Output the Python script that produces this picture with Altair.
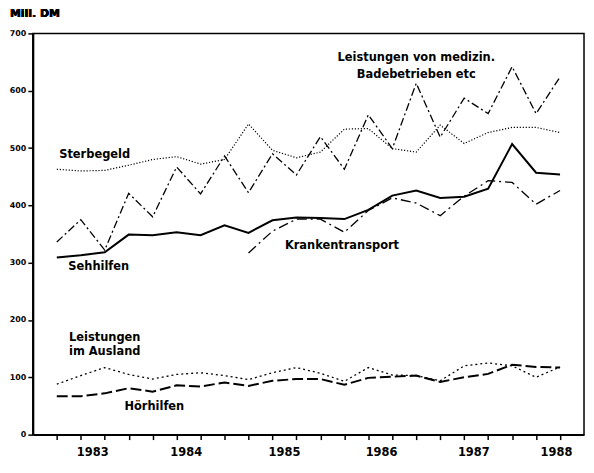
import altair as alt
import pandas as pd

quarters = list(range(22))
medizin = [336, 375, 322, 421, 380, 467, 420, 486, 422, 490, 453, 520, 463, 558, 499, 613, 519, 587, 560, 642, 560, 624]
sterbegeld = [463, 460, 461, 470, 480, 485, 472, 480, 542, 496, 483, 493, 533, 534, 499, 493, 540, 508, 527, 536, 536, 527]
sehhilfen = [309, 313, 318, 349, 348, 353, 348, 365, 352, 374, 379, 378, 376, 392, 417, 426, 413, 415, 429, 507, 457, 454]
kranken = [None] * 8 + [317, 355, 376, 376, 353, 391, 413, 404, 382, 416, 443, 440, 402, 426]
ausland = [88, 103, 117, 105, 97, 105, 108, 103, 96, 108, 117, 107, 93, 117, 104, 103, 94, 120, 125, 120, 100, 118]
hoerhilfen = [67, 67, 72, 81, 75, 86, 84, 91, 85, 94, 97, 97, 87, 99, 101, 103, 92, 100, 106, 122, 118, 117]

year_labels = ["1983", "1984", "1985", "1986", "1987", "1988"]
year_pos = [1.5, 5.4, 9.5, 13.55, 17.4, 20.85]

label_text = ["Sterbegeld", "Sehhilfen", "Krankentransport", "Leistungen von medizin.",
              "Badebetrieben etc", "Leistungen", "im Ausland", "Hörhilfen"]
label_x = [1.58, 1.75, 11.9, 15.0, 15.0, 2.0, 2.0, 4.07]
label_y = [488, 292, 329, 657, 627, 168, 144, 48]

series = {
    "medizin": (medizin, 1.3, [8, 3, 2, 3]),
    "sterbegeld": (sterbegeld, 1.2, [1.2, 1.8]),
    "sehhilfen": (sehhilfen, 2.0, None),
    "kranken": (kranken, 1.3, [10, 4, 2, 4]),
    "ausland": (ausland, 1.3, [2, 3]),
    "hoerhilfen": (hoerhilfen, 2.0, [11, 4]),
}

rows = []
for name, (vals, _, _) in series.items():
    for q, v in zip(quarters, vals):
        if v is not None:
            rows.append({"series": name, "q": q, "v": v})
df = pd.DataFrame(rows)

H = 404

x_enc = alt.X("q:Q", scale=alt.Scale(domain=[-1, 22], nice=False, zero=False),
              axis=alt.Axis(values=quarters, labels=False, title=None, grid=False,
                            tickSize=5, tickWidth=1.5, tickColor="black",
                            domainColor="black", domainWidth=2))
y_enc = alt.Y("v:Q", scale=alt.Scale(domain=[0, 700], nice=False),
              axis=alt.Axis(values=list(range(0, 701, 100)), title=None, grid=False,
                            tickSize=5, tickWidth=1.5, tickColor="black",
                            domainColor="black", domainWidth=2,
                            labelFont="DejaVu Sans", labelFontWeight="bold",
                            labelFontSize=8, labelColor="black", labelPadding=2))

layers = []
for name, (vals, w, dash) in series.items():
    kw = dict(color="black", strokeWidth=w)
    if dash:
        kw["strokeDash"] = dash
    layers.append(
        alt.Chart(df).transform_filter(alt.datum.series == name)
        .mark_line(**kw).encode(x=x_enc, y=y_enc)
    )

labels_df = pd.DataFrame({"t": label_text, "q": label_x, "v": label_y})
labels = alt.Chart(labels_df).mark_text(
    font="DejaVu Sans", fontWeight="bold", fontSize=11.5, color="black",
    align="center", baseline="middle"
).encode(x=x_enc, y=y_enc, text="t:N")

years_df = pd.DataFrame({"t": year_labels, "q": year_pos})
years = alt.Chart(years_df).mark_text(
    font="DejaVu Sans", fontWeight="bold", fontSize=11.5, color="black",
    align="center", baseline="middle"
).encode(x=x_enc, y=alt.value(H + 19), text="t:N")

unit = alt.Chart(years_df).mark_text(
    font="DejaVu Sans", fontWeight="bold", fontSize=11, color="black",
    align="left", baseline="middle"
).encode(x=alt.value(-23), y=alt.value(-20), text=alt.value("Mill. DM"))

chart = alt.layer(*layers, labels, years, unit).properties(
    width=555, height=H,
    padding={"left": 25, "top": 24, "right": 2, "bottom": 28},
    autosize=alt.AutoSizeParams(type="none"),
    background="white",
).configure_view(stroke="black", strokeWidth=1.5)

chart.save("out.html", embed_options={"renderer": "svg", "actions": False})
